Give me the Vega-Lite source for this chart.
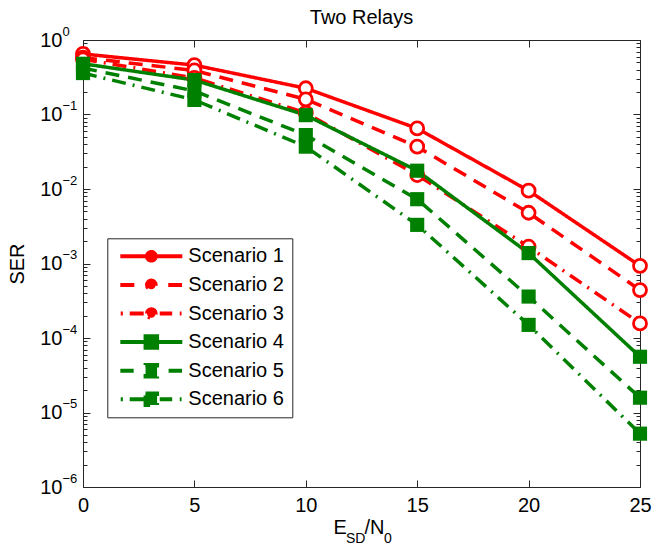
{
  "$schema": "https://vega.github.io/schema/vega-lite/v6.json",
  "width": 557,
  "height": 447,
  "autosize": {"type": "none"},
  "padding": {"left": 83, "top": 40, "right": 12, "bottom": 62},
  "background": "white",
  "title": {"text": "Two Relays", "fontSize": 20, "fontWeight": "normal", "font": "Liberation Sans", "color": "black", "anchor": "middle", "baseline": "alphabetic", "offset": 4, "dy": 23},
  "config": {
    "view": {"stroke": null},
    "font": "Liberation Sans",
    "axis": {"grid": false, "domainColor": "#262626", "tickColor": "#262626", "domainWidth": 1, "tickWidth": 1, "labelColor": "black", "titleColor": "black", "labelFont": "Liberation Sans", "titleFont": "Liberation Sans", "titleFontWeight": "normal", "labelFlush": false, "labelOverlap": false, "labelBound": false}
  },
  "data": {"values": [
    {"scenario": "Scenario 1", "x": 0, "ser": 0.65},
    {"scenario": "Scenario 1", "x": 5, "ser": 0.46},
    {"scenario": "Scenario 1", "x": 10, "ser": 0.225},
    {"scenario": "Scenario 1", "x": 15, "ser": 0.065},
    {"scenario": "Scenario 1", "x": 20, "ser": 0.0095},
    {"scenario": "Scenario 1", "x": 25, "ser": 0.00093},
    {"scenario": "Scenario 2", "x": 0, "ser": 0.58},
    {"scenario": "Scenario 2", "x": 5, "ser": 0.39},
    {"scenario": "Scenario 2", "x": 10, "ser": 0.16},
    {"scenario": "Scenario 2", "x": 15, "ser": 0.037},
    {"scenario": "Scenario 2", "x": 20, "ser": 0.0048},
    {"scenario": "Scenario 2", "x": 25, "ser": 0.00044},
    {"scenario": "Scenario 3", "x": 0, "ser": 0.55},
    {"scenario": "Scenario 3", "x": 5, "ser": 0.31},
    {"scenario": "Scenario 3", "x": 10, "ser": 0.105},
    {"scenario": "Scenario 3", "x": 15, "ser": 0.0154},
    {"scenario": "Scenario 3", "x": 20, "ser": 0.00168},
    {"scenario": "Scenario 3", "x": 25, "ser": 0.000157},
    {"scenario": "Scenario 4", "x": 0, "ser": 0.48},
    {"scenario": "Scenario 4", "x": 5, "ser": 0.29},
    {"scenario": "Scenario 4", "x": 10, "ser": 0.098},
    {"scenario": "Scenario 4", "x": 15, "ser": 0.0176},
    {"scenario": "Scenario 4", "x": 20, "ser": 0.00138},
    {"scenario": "Scenario 4", "x": 25, "ser": 0.000056},
    {"scenario": "Scenario 5", "x": 0, "ser": 0.42},
    {"scenario": "Scenario 5", "x": 5, "ser": 0.207},
    {"scenario": "Scenario 5", "x": 10, "ser": 0.053},
    {"scenario": "Scenario 5", "x": 15, "ser": 0.0073},
    {"scenario": "Scenario 5", "x": 20, "ser": 0.00036},
    {"scenario": "Scenario 5", "x": 25, "ser": 0.0000158},
    {"scenario": "Scenario 6", "x": 0, "ser": 0.36},
    {"scenario": "Scenario 6", "x": 5, "ser": 0.157},
    {"scenario": "Scenario 6", "x": 10, "ser": 0.037},
    {"scenario": "Scenario 6", "x": 15, "ser": 0.0033},
    {"scenario": "Scenario 6", "x": 20, "ser": 0.00015},
    {"scenario": "Scenario 6", "x": 25, "ser": 0.0000052}
  ]},
  "layer": [
    {
      "mark": {"type": "line", "strokeWidth": 3.5},
      "encoding": {
        "x": {"field": "x", "type": "quantitative", "scale": {"domain": [0, 25], "nice": false, "zero": false},
          "axis": {"orient": "bottom", "values": [0, 5, 10, 15, 20, 25], "tickSize": -7, "labelPadding": 15, "labelFontSize": 20, "labelAlign": "center",
            "title": "E", "titleFontSize": 20, "titleX": 250, "titleY": 46, "titleAlign": "left", "titleBaseline": "alphabetic", "titleAngle": 0}},
        "y": {"field": "ser", "type": "quantitative", "scale": {"type": "log", "domain": [0.000001, 1], "nice": false},
          "axis": {"orient": "left",
            "values": [0.000001, 0.000002, 0.000003, 0.000004, 0.000005, 0.000006, 0.000007, 0.000008, 0.000009, 0.00001, 0.00002, 0.00003, 0.00004, 0.00005, 0.00006, 0.00007, 0.00008, 0.00009, 0.0001, 0.0002, 0.0003, 0.0004, 0.0005, 0.0006, 0.0007, 0.0008, 0.0009, 0.001, 0.002, 0.003, 0.004, 0.005, 0.006, 0.007, 0.008, 0.009, 0.01, 0.02, 0.03, 0.04, 0.05, 0.06, 0.07, 0.08, 0.09, 0.1, 0.2, 0.3, 0.4, 0.5, 0.6, 0.7, 0.8, 0.9, 1],
            "tickSize": {"condition": {"test": "abs(log(datum.value)/LN10 - round(log(datum.value)/LN10)) < 0.001", "value": -7}, "value": -4},
            "labelExpr": "abs(log(datum.value)/LN10 - round(log(datum.value)/LN10)) < 0.001 ? '10' : ''",
            "labelPadding": 28, "labelFontSize": 20, "labelAlign": "right", "labelBaseline": "middle",
            "title": "SER", "titleFontSize": 20, "titleX": -66, "titleY": 223.5, "titleAngle": -90, "titleAlign": "center", "titleBaseline": "middle"}},
        "color": {"field": "scenario", "type": "nominal",
          "scale": {"domain": ["Scenario 1", "Scenario 2", "Scenario 3", "Scenario 4", "Scenario 5", "Scenario 6"], "range": ["#ff0000", "#ff0000", "#ff0000", "#008000", "#008000", "#008000"]},
          "legend": {"orient": "none", "legendX": 24.3, "legendY": 198.3, "title": null, "padding": 8, "strokeColor": "#262626", "fillColor": "white", "cornerRadius": 0,
            "symbolSize": 5184, "symbolStrokeWidth": 4, "clipHeight": 20, "rowPadding": 8.6, "labelFontSize": 20, "labelFont": "Liberation Sans", "labelColor": "black", "labelOffset": -3, "labelLimit": 300,
            "encode": {"symbols": {"update": {
              "shape": {"signal": "datum.value === 'Scenario 1' ? 'M-0.916,0H0.806M-0.175,0A0.12,0.12,0,1,1,0.065,0A0.12,0.12,0,1,1,-0.175,0Z' : datum.value === 'Scenario 2' ? 'M-0.916,0H-0.505M0.415,0H0.797M-0.175,0A0.12,0.12,0,1,1,0.065,0A0.12,0.12,0,1,1,-0.175,0Z' : datum.value === 'Scenario 3' ? 'M-0.905,0H-0.845M-0.655,0H0.525M0.735,0H0.785M-0.175,0A0.12,0.12,0,1,1,0.065,0A0.12,0.12,0,1,1,-0.175,0Z' : datum.value === 'Scenario 4' ? 'M-0.916,0H0.806M-0.215,-0.16H0.105V0.16H-0.215Z' : datum.value === 'Scenario 5' ? 'M-0.916,0H-0.545M0.425,0H0.797M-0.215,-0.16H0.105V0.16H-0.215Z' : 'M-0.905,0H-0.845M-0.655,0H0.525M0.735,0H0.785M-0.215,-0.16H0.105V0.16H-0.215Z'"},
              "fill": {"signal": "indexof(['Scenario 4','Scenario 5','Scenario 6'], datum.value) >= 0 ? '#008000' : 'transparent'"},
              "strokeDash": {"value": []},
              "opacity": {"value": 1}
            }}}}},
        "strokeDash": {"field": "scenario", "type": "nominal",
          "scale": {"domain": ["Scenario 1", "Scenario 2", "Scenario 3", "Scenario 4", "Scenario 5", "Scenario 6"], "range": [[1, 0], [14, 9], [14, 7, 2, 7], [1, 0], [14, 9], [14, 7, 2, 7]]},
          "legend": null}
      }
    },
    {
      "transform": [{"filter": {"field": "scenario", "oneOf": ["Scenario 1", "Scenario 2", "Scenario 3"]}}],
      "mark": {"type": "point", "shape": "circle", "filled": false, "fill": "white", "size": 169, "strokeWidth": 2.8, "opacity": 1},
      "encoding": {
        "x": {"field": "x", "type": "quantitative",
          "axis": {"orient": "top", "values": [0, 5, 10, 15, 20, 25], "tickSize": -7, "labels": false, "title": null}},
        "y": {"field": "ser", "type": "quantitative",
          "axis": {"orient": "right",
            "values": [0.000001, 0.000002, 0.000003, 0.000004, 0.000005, 0.000006, 0.000007, 0.000008, 0.000009, 0.00001, 0.00002, 0.00003, 0.00004, 0.00005, 0.00006, 0.00007, 0.00008, 0.00009, 0.0001, 0.0002, 0.0003, 0.0004, 0.0005, 0.0006, 0.0007, 0.0008, 0.0009, 0.001, 0.002, 0.003, 0.004, 0.005, 0.006, 0.007, 0.008, 0.009, 0.01, 0.02, 0.03, 0.04, 0.05, 0.06, 0.07, 0.08, 0.09, 0.1, 0.2, 0.3, 0.4, 0.5, 0.6, 0.7, 0.8, 0.9, 1],
            "tickSize": {"condition": {"test": "abs(log(datum.value)/LN10 - round(log(datum.value)/LN10)) < 0.001", "value": -7}, "value": -4},
            "labels": false, "title": null}},
        "color": {"field": "scenario", "type": "nominal", "legend": null}
      }
    },
    {
      "transform": [{"filter": {"field": "scenario", "oneOf": ["Scenario 4", "Scenario 5", "Scenario 6"]}}],
      "mark": {"type": "point", "shape": "square", "filled": true, "size": 200, "opacity": 1},
      "encoding": {
        "x": {"field": "x", "type": "quantitative",
          "axis": {"orient": "bottom", "domain": false, "ticks": false, "labels": false,
            "title": "SD", "titleFontSize": 14, "titleX": 262.5, "titleY": 55, "titleAlign": "left", "titleBaseline": "alphabetic", "titleAngle": 0}},
        "y": {"field": "ser", "type": "quantitative",
          "axis": {"orient": "left", "values": [0.000001, 0.00001, 0.0001, 0.001, 0.01, 0.1, 1], "domain": false, "ticks": false,
            "labelExpr": "(round(log(datum.value)/LN10) < 0 ? '\u2212' : '') + abs(round(log(datum.value)/LN10))",
            "labelAlign": "left", "labelBaseline": "middle", "labelPadding": 21, "labelOffset": -9, "labelFontSize": 13, "title": null}},
        "color": {"field": "scenario", "type": "nominal", "legend": null}
      }
    },
    {
      "mark": {"type": "point", "opacity": 0},
      "encoding": {
        "x": {"field": "x", "type": "quantitative",
          "axis": {"orient": "bottom", "domain": false, "ticks": false, "labels": false,
            "title": "/N", "titleFontSize": 20, "titleX": 281, "titleY": 46, "titleAlign": "left", "titleBaseline": "alphabetic", "titleAngle": 0}},
        "y": {"field": "ser", "type": "quantitative", "axis": null}
      }
    },
    {
      "mark": {"type": "point", "opacity": 0},
      "encoding": {
        "x": {"field": "x", "type": "quantitative",
          "axis": {"orient": "bottom", "domain": false, "ticks": false, "labels": false,
            "title": "0", "titleFontSize": 14, "titleX": 300.5, "titleY": 55, "titleAlign": "left", "titleBaseline": "alphabetic", "titleAngle": 0}},
        "y": {"field": "ser", "type": "quantitative", "axis": null}
      }
    }
  ],
  "resolve": {"axis": {"x": "independent", "y": "independent"}}
}
